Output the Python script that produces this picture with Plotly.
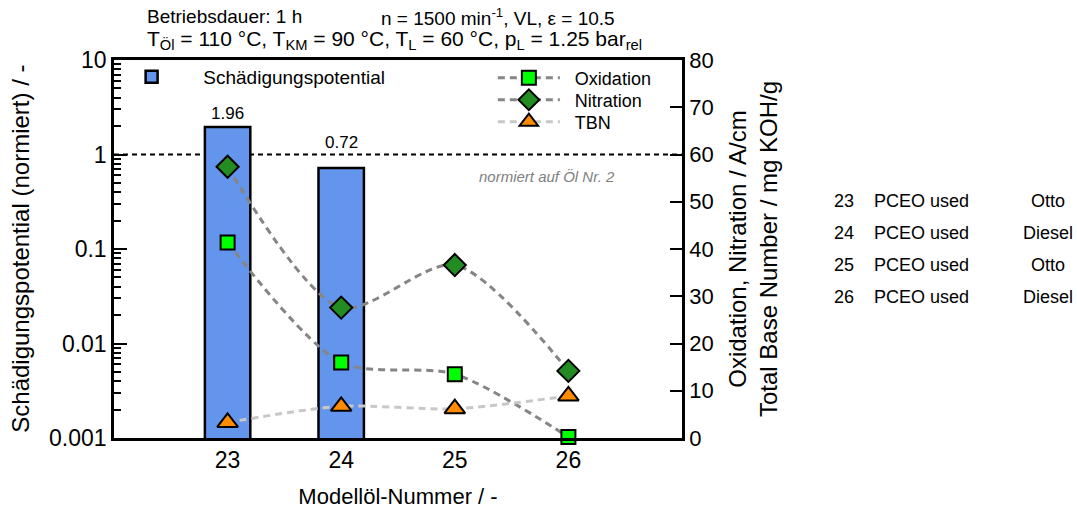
import math
import plotly.graph_objects as go

# Model oil numbers and measured quantities
oil_numbers = [23, 24, 25, 26]
damage_potential = [1.96, 0.72]          # normalised, only oils 23 and 24
damage_oils = [23, 24]
oxidation = [41.4, 16.0, 13.5, 0.2]      # A/cm
nitration = [57.4, 27.6, 36.6, 14.2]     # A/cm
tbn = [3.3, 6.7, 6.2, 8.9]               # mg KOH/g

# Description table
table_nums = ["23", "24", "25", "26"]
table_desc = ["PCEO used", "PCEO used", "PCEO used", "PCEO used"]
table_type = ["Otto", "Diesel", "Otto", "Diesel"]

left_ticks = [0.001, 0.01, 0.1, 1, 10]
left_tick_text = ["0.001", "0.01", "0.1", "1", "10"]

FONT = "Liberation Sans, Arial, sans-serif"
NB = "\u00a0"

fig = go.Figure()

fig.add_trace(go.Bar(
    x=damage_oils, y=damage_potential, yaxis="y",
    name=NB * 6 + "Schädigungspotential", width=0.4,
    marker=dict(color="#6495ED", line=dict(color="black", width=2.5)),
    legend="legend",
))

line_dash = "7px,5px"
series = [
    ("Oxidation", oxidation, "#858585", "square", 14, "#00FF00", "legend2"),
    ("Nitration", nitration, "#858585", "diamond", 17, "#228B22", "legend3"),
    ("TBN", tbn, "#C8C8C8", "triangle-up", 18, "#FF8C00", "legend4"),
]
for name, vals, lc, sym, msize, mcol, leg in series:
    fig.add_trace(go.Scatter(
        x=oil_numbers, y=vals, yaxis="y2", name=NB * 2 + name,
        mode="lines+markers",
        line=dict(color=lc, width=3, dash=line_dash, shape="spline", smoothing=0.8),
        marker=dict(symbol=sym, size=msize, color=mcol, line=dict(color="black", width=2)),
        legend=leg, cliponaxis=False,
    ))

# Reference level: normalised to oil no. 2
fig.add_shape(type="line", xref="paper", yref="y", x0=0, x1=1, y0=1, y1=1,
              line=dict(color="black", width=2, dash="5px,4px"), layer="below")


def note(text, x, y, size, xanchor="left", color="black"):
    return dict(text=text, xref="paper", yref="paper", x=x, y=y,
                xanchor=xanchor, yanchor="middle", align=xanchor if xanchor != "center" else "center",
                showarrow=False, font=dict(size=size, color=color))


annotations = []

# Value labels above the bars (second one lifted clear of the reference line)
label_lift = [2, 14]
for xv, v, lift in zip(damage_oils, damage_potential, label_lift):
    annotations.append(dict(text=f"{v:.2f}", x=xv, y=math.log10(v), xref="x", yref="y",
                            xanchor="center", yanchor="bottom", yshift=lift,
                            showarrow=False, font=dict(size=17, color="black")))

annotations += [
    note("<i>normiert auf Öl Nr. 2</i>", 0.886, 0.693, 15, xanchor="right", color="#808080"),
    note("Betriebsdauer: 1 h", 0.054, 1.114, 19),
    note("n = 1500 min<sup>-1</sup>, VL, ε = 10.5", 0.466, 1.114, 19),
    note("T<sub>Öl</sub> = 110 °C, T<sub>KM</sub> = 90 °C, T<sub>L</sub> = 60 °C, "
         "p<sub>L</sub> = 1.25 bar<sub>rel</sub>", 0.054, 1.052, 21),
]

# Left axis title
annotations.append(dict(text="Schädigungspotential (normiert) / -", xref="paper", yref="paper",
                        x=-0.166, y=0.5, xanchor="center", yanchor="middle", textangle=-90,
                        showarrow=False, font=dict(size=24, color="black")))

row_y = [201, 233, 265, 297]
for num, desc, kind, yp in zip(table_nums, table_desc, table_type, row_y):
    yy = (438 - yp) / 378
    annotations.append(note(num, 1.264, yy, 18))
    annotations.append(note(desc, 1.334, yy, 18))
    annotations.append(note(kind, 1.644, yy, 18, xanchor="center"))


def line_legend(y_px):
    return dict(x=0.667, y=(438 - y_px) / 378, xanchor="left", yanchor="middle",
                bgcolor="rgba(0,0,0,0)", font=dict(size=18), itemwidth=62)


fig.update_layout(
    width=1077, height=510,
    margin=dict(l=114, r=395, t=60, b=72, autoexpand=False),
    paper_bgcolor="white", plot_bgcolor="white",
    font=dict(family=FONT, color="black", size=22),
    showlegend=True,
    barmode="overlay",
    xaxis=dict(
        range=[22, 27], tickvals=oil_numbers, ticks="", showgrid=False, zeroline=False,
        showline=True, linewidth=2.5, linecolor="black", mirror=True, automargin=False,
        title=dict(text="Modellöl-Nummer / -", font=dict(size=22), standoff=17),
        tickfont=dict(size=23),
    ),
    yaxis=dict(
        type="log", range=[-3, 1], tickvals=left_ticks, ticktext=left_tick_text,
        ticks="inside", ticklen=13, tickwidth=2, tickcolor="black",
        minor=dict(ticks="inside", ticklen=7, tickwidth=1.5, tickcolor="black",
                   dtick="D1", showgrid=False),
        showgrid=False, zeroline=False, showline=True, linewidth=2.5, linecolor="black",
        automargin=False,
        tickfont=dict(size=23),
    ),
    yaxis2=dict(
        overlaying="y", side="right", range=[0, 80], dtick=10,
        ticks="inside", ticklen=12, tickwidth=2, tickcolor="black",
        showgrid=False, zeroline=False, showline=True, linewidth=2.5, linecolor="black",
        automargin=False,
        title=dict(text="Oxidation, Nitration / A/cm<br>Total Base Number / mg KOH/g",
                   font=dict(size=24), standoff=17),
        tickfont=dict(size=22),
    ),
    legend=dict(x=0.031, y=(438 - 77) / 378, xanchor="left", yanchor="middle",
                bgcolor="rgba(0,0,0,0)", font=dict(size=19)),
    legend2=line_legend(78),
    legend3=line_legend(100),
    legend4=line_legend(122),
    annotations=annotations,
)

fig.write_html("out.html")
